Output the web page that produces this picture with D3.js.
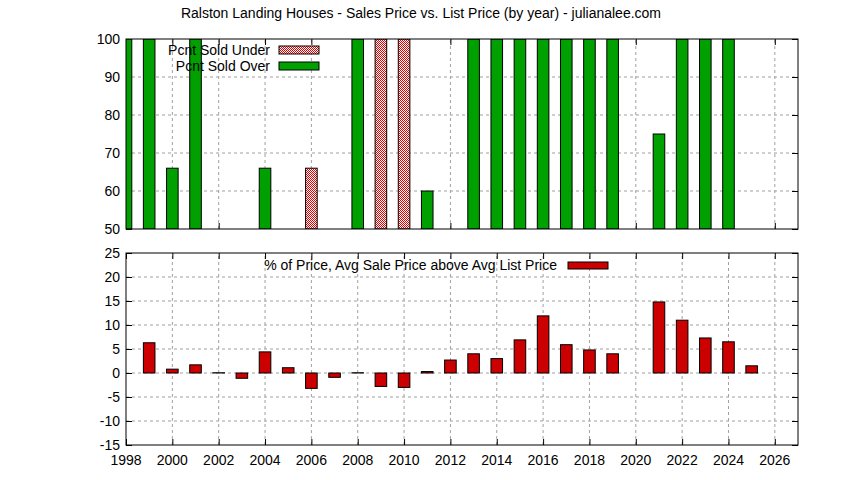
<!DOCTYPE html>
<html><head><meta charset="utf-8">
<script src="https://cdn.jsdelivr.net/npm/d3@7"></script>
<style>body{margin:0;background:#fff}text{font-family:"Liberation Sans",Arial,sans-serif;font-size:14px;fill:#000}</style>
</head><body><svg id="chart" width="844" height="480"></svg>
<script>
// top panel: percent of sales over / under list
var overYears=[1998,1999,2000,2001,2004,2008,2011,2013,2014,2015,2016,2017,2018,2019,2021,2022,2023,2024];
var overPcnt=[100,100,66,100,66,100,60,100,100,100,100,100,100,100,75,100,100,100];
var underYears=[2006,2009,2010];
var underPcnt=[66,100,100];
// bottom panel: avg sale above avg list
var pctYears=[1999,2000,2001,2002,2003,2004,2005,2006,2007,2008,2009,2010,2011,2012,2013,2014,2015,2016,2017,2018,2019,2021,2022,2023,2024,2025];
var pctVals=[6.3,0.8,1.7,0.05,-1.1,4.4,1.1,-3.2,-0.9,0.05,-2.8,-3,0.3,2.7,4,3,6.9,11.9,5.9,4.8,4,14.8,11,7.3,6.5,1.5];
var xTicks=d3.range(1998,2027,2);

var svg=d3.select("#chart");
var L=126,R=798;
var x=d3.scaleLinear().domain([1998,2027]).range([L,R]);
var bw=x(1998.5)-x(1998);

var defs=svg.append("defs");
var pat=defs.append("pattern").attr("id","hatch").attr("width",2).attr("height",2).attr("patternUnits","userSpaceOnUse");
pat.append("rect").attr("width",2).attr("height",2).attr("fill","#fff");
pat.append("rect").attr("width",1).attr("height",1).attr("fill","#e00000");
pat.append("rect").attr("x",1).attr("y",1).attr("width",1).attr("height",1).attr("fill","#e00000");
defs.append("clipPath").attr("id","clipTop").append("rect").attr("x",L).attr("y",39).attr("width",R-L).attr("height",190);
defs.append("clipPath").attr("id","clipBot").append("rect").attr("x",L).attr("y",253).attr("width",R-L).attr("height",192);

svg.append("text").attr("x",421).attr("y",18).attr("text-anchor","middle").text("Ralston Landing Houses - Sales Price vs. List Price (by year) - julianalee.com");

function panel(y,yTicks,showX,clip){
  var g=svg.append("g");
  g.selectAll(".hg").data(yTicks.slice(1,-1)).enter().append("line")
    .attr("x1",L).attr("x2",R).attr("y1",d=>y(d)).attr("y2",d=>y(d))
    .attr("stroke","#a0a0a0").attr("stroke-dasharray","3,3");
  g.selectAll(".vg").data(xTicks.slice(1)).enter().append("line")
    .attr("x1",d=>x(d)).attr("x2",d=>x(d)).attr("y1",y.range()[0]).attr("y2",y.range()[1])
    .attr("stroke","#a0a0a0").attr("stroke-dasharray","3,3");
  var top=y.range()[1],bot=y.range()[0];
  g.append("g").attr("transform","translate("+L+",0)").call(d3.axisRight(y).tickValues(yTicks).tickSize(6).tickFormat(""));
  g.append("g").attr("transform","translate("+R+",0)").call(d3.axisLeft(y).tickValues(yTicks).tickSize(6).tickFormat(""));
  g.append("g").attr("transform","translate(0,"+bot+")").call(d3.axisTop(x).tickValues(xTicks).tickSize(6).tickFormat(""));
  g.append("g").attr("transform","translate(0,"+top+")").call(d3.axisBottom(x).tickValues(xTicks).tickSize(6).tickFormat(""));
  g.selectAll(".domain").remove();
  g.selectAll(".tick line").attr("stroke","#000");
  g.selectAll(".yl").data(yTicks).enter().append("text")
    .attr("x",L-6).attr("y",d=>y(d)+5).attr("text-anchor","end").text(d=>d);
  if(showX){
    g.selectAll(".xl").data(xTicks).enter().append("text")
      .attr("x",d=>x(d)).attr("y",bot+20).attr("text-anchor","middle").text(d=>d);
  }
  var bars=svg.append("g").attr("clip-path","url(#"+clip+")");
  svg.append("rect").attr("x",L).attr("y",top).attr("width",R-L).attr("height",bot-top)
    .attr("fill","none").attr("stroke","#000");
  return bars;
}

var yT=d3.scaleLinear().domain([50,100]).range([229,39]);
var topBars=panel(yT,d3.range(50,101,10),false,"clipTop");
topBars.selectAll(".ob").data(overYears).enter().append("rect")
  .attr("x",d=>x(d)-bw/2).attr("width",bw)
  .attr("y",(d,i)=>yT(overPcnt[i])).attr("height",(d,i)=>yT(50)-yT(overPcnt[i]))
  .attr("fill","#00a000").attr("stroke","#000");
topBars.selectAll(".ub").data(underYears).enter().append("rect")
  .attr("x",d=>x(d)-bw/2).attr("width",bw)
  .attr("y",(d,i)=>yT(underPcnt[i])).attr("height",(d,i)=>yT(50)-yT(underPcnt[i]))
  .attr("fill","url(#hatch)").attr("stroke","#000");

// top legend
[["Pcnt Sold Under","url(#hatch)",50],["Pcnt Sold Over","#00a000",66]].forEach(function(l){
  svg.append("text").attr("x",270).attr("y",l[2]+5).attr("text-anchor","end").text(l[0]);
  svg.append("rect").attr("x",279).attr("y",l[2]-4).attr("width",40).attr("height",8).attr("fill",l[1]).attr("stroke","#000");
});

var yB=d3.scaleLinear().domain([-15,25]).range([445,253]);
var botBars=panel(yB,d3.range(-15,26,5),true,"clipBot");
botBars.selectAll(".pb").data(pctYears).enter().append("rect")
  .attr("x",d=>x(d)-bw/2).attr("width",bw)
  .attr("y",(d,i)=>yB(Math.max(0,pctVals[i])))
  .attr("height",(d,i)=>Math.abs(yB(0)-yB(pctVals[i])))
  .attr("fill","#cc0000").attr("stroke","#000");

svg.append("text").attr("x",557).attr("y",270).attr("text-anchor","end").text("% of Price, Avg Sale Price above Avg List Price");
svg.append("rect").attr("x",568).attr("y",262).attr("width",40).attr("height",7).attr("fill","#cc0000").attr("stroke","#000");
</script></body></html>
